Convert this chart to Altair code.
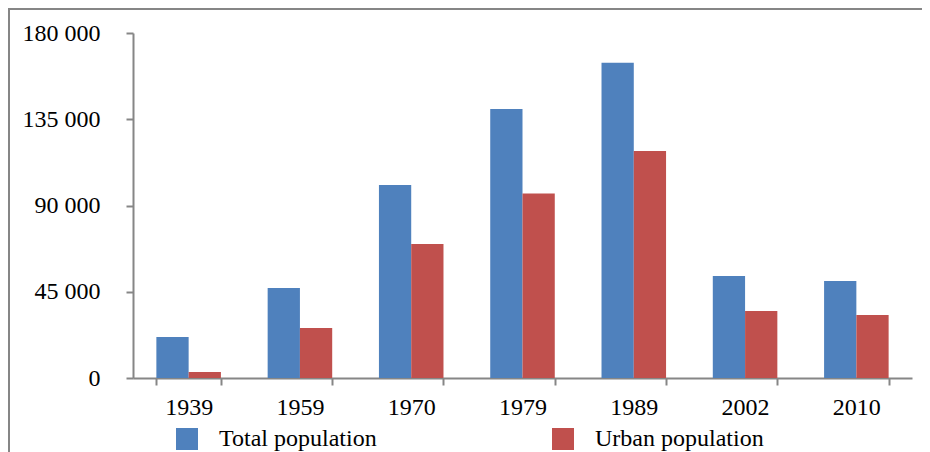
import altair as alt
import pandas as pd

years = ["1939", "1959", "1970", "1979", "1989", "2002", "2010"]
total_population = [21400, 47000, 100700, 140300, 164500, 53200, 50600]
urban_population = [3100, 26100, 69900, 96300, 118400, 34900, 32900]
series_names = ["Total population", "Urban population"]
series_colors = ["#4F81BD", "#C0504D"]
y_ticks = [0, 45000, 90000, 135000, 180000]

rows = []
for i, yr in enumerate(years):
    rows.append({"year": yr, "series": series_names[0], "value": total_population[i]})
    rows.append({"year": yr, "series": series_names[1], "value": urban_population[i]})
df = pd.DataFrame(rows)

FONT = "Liberation Serif, Times New Roman, serif"
GRAY = "#868686"
W, H = 779, 345
FS = 24

bars = alt.Chart(df).mark_bar().encode(
    x=alt.X("year:N", sort=years, title=None,
            scale=alt.Scale(paddingInner=0.42, paddingOuter=0.21),
            axis=alt.Axis(labelAngle=0, tickBand="extent", tickSize=7, tickWidth=2,
                          tickColor=GRAY, domainColor=GRAY, domainWidth=2,
                          labelPadding=10, labelFontSize=FS, labelFont=FONT,
                          labelColor="black", grid=False)),
    xOffset=alt.XOffset("series:N", sort=series_names,
                        scale=alt.Scale(paddingInner=0, paddingOuter=0)),
    y=alt.Y("value:Q", title=None,
            scale=alt.Scale(domain=[0, 180000], nice=False),
            axis=alt.Axis(values=y_ticks, tickSize=7, tickWidth=2, tickColor=GRAY,
                          domainColor=GRAY, domainWidth=2, labelPadding=26,
                          labelFontSize=FS, labelFont=FONT, labelColor="black",
                          grid=False,
                          labelExpr="replace(format(datum.value, ','), ',', ' ')")),
    color=alt.Color("series:N", sort=series_names,
                    scale=alt.Scale(domain=series_names, range=series_colors),
                    legend=alt.Legend(title=None, orient="none", legendX=42, legendY=394,
                                      direction="horizontal", columns=2,
                                      columnPadding=174, padding=0,
                                      symbolType="square", symbolSize=484,
                                      symbolStrokeWidth=0, symbolOpacity=1,
                                      labelOffset=20, labelFontSize=FS,
                                      labelFont=FONT, labelColor="black",
                                      labelLimit=400)),
)

frame = alt.Chart(alt.Data(values=[{}])).mark_rect(
    fill=None, stroke=GRAY, strokeWidth=2
).encode(
    x=alt.value(-124), x2=alt.value(W + 40),
    y=alt.value(-24), y2=alt.value(H + 120),
)

chart = alt.layer(frame, bars).properties(
    width=W, height=H,
    autosize=alt.AutoSizeParams(type="none"),
    padding={"left": 125, "top": 25, "right": 10, "bottom": 74},
).configure_view(stroke=None)

chart.save("out.html", embed_options={"renderer": "svg", "actions": False})
